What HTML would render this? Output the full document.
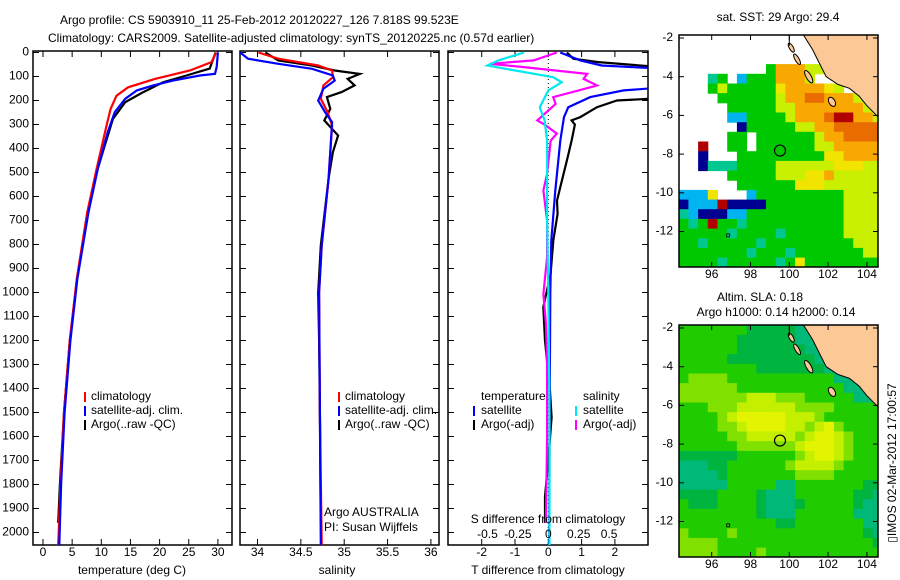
<!DOCTYPE html>
<html><head><meta charset="utf-8">
<style>
html,body{margin:0;padding:0;background:#fff;}
svg{display:block;font-family:"Liberation Sans",Arial,sans-serif;font-size:12px;}
</style></head>
<body>
<svg id="fig" width="900" height="580" viewBox="0 0 900 580" xmlns="http://www.w3.org/2000/svg">
<text x="60" y="24">Argo profile: CS 5903910_11 25-Feb-2012 20120227_126 7.818S 99.523E</text>
<text x="48" y="42">Climatology: CARS2009. Satellite-adjusted climatology: synTS_20120225.nc (0.57d earlier)</text>
<defs>
<clipPath id="c1"><rect x="33" y="51" width="199" height="494"/></clipPath>
<clipPath id="c2"><rect x="240" y="51" width="199" height="494"/></clipPath>
<clipPath id="c3"><rect x="448" y="51" width="200" height="494"/></clipPath>
<clipPath id="m1"><rect x="679" y="35" width="199" height="232"/></clipPath>
<clipPath id="m2"><rect x="679" y="325" width="199" height="232"/></clipPath>
</defs>
<g id="layer"></g>
<text x="893" y="463" transform="rotate(-90 893 463)" text-anchor="middle" dominant-baseline="middle">▯IMOS 02-Mar-2012 17:00:57</text>
</svg>
<script>
// ---------- profile data ----------
const tempClimDepth = [0,40,75,110,145,180,235,305,485,665,942,1200,1500,1800,2000,2052];
const tempClimVal   = [29.7,28.9,25.2,19.2,14.6,12.6,11.6,10.9,9.2,7.6,5.8,4.6,3.6,3.0,2.7,2.6];
const tempSatDepth  = [0,60,89,96,117,137,158,193,249,332,485,665,942,1200,1500,1800,2052];
const tempSatVal    = [30.0,29.8,29.5,26.9,22.3,18.9,16.1,14.1,12.3,11.1,9.4,7.8,5.9,4.7,3.7,3.1,2.8];
const tempArgoDepth = [0,67,96,124,165,207,276,387,500,700,950,1200,1500,1800,1960];
const tempArgoVal   = [29.6,28.6,24.6,20.6,17.2,14.1,12.0,10.6,9.2,7.4,5.8,4.6,3.6,2.9,2.6];

const salClimDepth = [0,26,54,75,103,137,193,249,304,525,804,1000,1500,2052];
const salClimVal   = [34.01,34.24,34.70,34.86,34.87,34.76,34.73,34.81,34.86,34.82,34.74,34.71,34.72,34.74];
const salSatDepth  = [0,26,47,68,96,117,151,200,249,290,525,804,1000,1500,2052];
const salSatVal    = [33.8,33.89,34.24,34.63,34.87,34.89,34.76,34.70,34.78,34.86,34.82,34.74,34.71,34.72,34.73];
const salArgoDepth = [0,33,54,75,89,110,137,165,186,235,283,346,415,525,804,1000,1200,1500,1960];
const salArgoVal   = [34.09,34.24,34.63,34.89,35.18,35.04,35.12,34.97,34.80,34.84,34.77,34.93,34.87,34.82,34.73,34.70,34.71,34.72,34.73];

const tDiffSatDepth  = [0,33,54,68,145,158,186,228,269,367,575,783,1000,1500,2052];
const tDiffSatVal    = [0.36,0.96,1.6,3.5,3.5,2.26,1.26,0.6,0.47,0.36,0.21,0.09,0.06,0.04,0.03];
const tDiffArgoDepth = [0,26,40,68,186,200,228,269,283,300,367,450,505,617,672,783,922,1061,1200,1338,1411,1520,1700,1850,1960];
const tDiffArgoVal   = [0.56,0.75,1.5,4,4,2.06,1.46,0.96,0.7,0.8,0.7,0.56,0.46,0.26,0.28,0.15,0.07,-0.15,-0.1,0,0.05,0.1,0,-0.1,-0.1];
const sDiffSatDepth  = [0,33,54,68,103,124,158,228,283,367,700,1000,1500,2052];
const sDiffSatVal    = [-0.2,-0.41,-0.5,-0.35,0.04,0.11,0,-0.07,-0.03,-0.01,-0.01,0,0.01,0.01];
const sDiffArgoDepth = [0,33,47,61,89,110,137,158,186,214,283,300,338,367,505,575,700,853,1006,1130,1300,1600,1960];
const sDiffArgoVal   = [0.07,-0.12,-0.48,-0.2,0.32,0.29,0.4,0.25,0.04,0.06,-0.09,-0.03,0.07,0.02,-0.01,-0.04,-0.01,-0.01,-0.04,-0.02,-0.01,-0.01,-0.02];

const depthTicks = [0,100,200,300,400,500,600,700,800,900,1000,1100,1200,1300,1400,1500,1600,1700,1800,1900,2000];
const tempTicks = [0,5,10,15,20,25,30];
const salTicks = ["34","34.5","35","35.5","36"];
const tDiffTicks = ["-2","-1","0","1","2"];
const sDiffTicks = ["-0.5","-0.25","0","0.25","0.5"];

// ---------- map data (0.5 deg cells, lon from 94.3, lat from -1.85 downward) ----------
const sstRows = [
".....................",
".....................",
".....................",
".........goooyy......",
"...tg.cgggoooy.......",
"...gygggggYooooYy....",
"....ggggggyooOOoooy..",
".....gggggyyoooooooy.",
".....ccggggyoooOrrooy",
"......bgggggyyooOOOOO",
".....gg.ggggggyooOOOO",
"..r..gg.ggggggyyooooo",
"..b...gggggggggYYoooo",
"..btttggggyyyyyyYYYyy",
".....gggggyyyYYoyyyyy",
"......ggggggYYYyyyyyy",
"cccY...cgggggggggyyyy",
"bcccrbbbbggggggggyyyy",
"tcbbbccggggggggggyyyy",
"gtgrggtggggggggggyyyy",
"gggggtggggtggggggyyyy",
"ggtgggggtgggggggggyyy",
"gggggggtgggtgggggggyy",
"ggggtgggggtgYgggggggg"];
const slaRows = [
"gggggggGGGGGttttttttt",
"ggggggGGGGGGttttttttt",
"ggggggGGGGGGGtttttttt",
"gggggGGGGGGGGGttttttt",
"ggggggggGGGGGGGtttttt",
"gllllgggggggggggttttt",
"llllllgggggggggggtttt",
"lllllllyyylllgggggttt",
"ggglllyyyyyyllllggggg",
"gggglyYYYYYyyylgggggg",
"ggggllyYYYYyylyYlgggg",
"gggggllyyyyylyYYylggg",
"ggggggllllllyYYYylggg",
"GGGGGGgggggglyYYylggg",
"tttGGgggggglyyyylgggg",
"ttttGgggggggllllggggg",
"tttttgggggttgggggggGG",
"GGGGggggGtttggggggGGt",
"gGGGggggGtttGgggggGtt",
"ggggggggGtttggggggttt",
"ggggggggggGGgggggggtt",
"lgggglgggggggggggggGt",
"llllggggggggggggggggG",
"llllgggglgggggggggggg"];
const sstColors = {g:"#00c800",y:"#c8f000",Y:"#f0e400",o:"#f8a800",O:"#e86c00",r:"#b00000",b:"#000090",c:"#00b4f0",t:"#00c890"};
const slaColors = {G:"#00b440",g:"#20cc00",l:"#80e000",y:"#c4f000",Y:"#e4f400",t:"#00b878"};
const landLon = [100.7,101.2,101.6,101.9,102.5,103.1,103.6,104.0,104.6,104.7,104.7];
const landLat = [-1.8,-2.6,-3.4,-4.0,-4.4,-4.6,-5.0,-5.5,-6.1,-6.1,-1.8];
const argoLon = 99.52, argoLat = -7.818;
const mapLonTicks = [96,98,100,102,104];
const mapLatTicks = [-2,-4,-6,-8,-10,-12];

// ---------- helpers ----------
const NS = "http://www.w3.org/2000/svg";
const root = document.getElementById('layer');
function mk(tag, attrs, parent){
  const e = document.createElementNS(NS, tag);
  for (const k in attrs) e.setAttribute(k, attrs[k]);
  (parent||root).appendChild(e);
  return e;
}
const Y0 = 52.5, KY = 0.24;
const yD = d => Y0 + d*KY;
const xT = v => 43 + v*5.83;
const xS = v => 257.5 + (v-34)*86.7;
const xTd = v => 548.3 + v*33.3;
const xSd = v => 548.3 + v*121.7;

function panelFrame(x0, x1, name, topTickXs){
  const g = mk('g', {});
  
  
  const r = mk('rect', {x:x0, y:51, width:x1-x0, height:494, fill:'none', stroke:'#000', 'stroke-width':1.5}, g);
  
  
  depthTicks.forEach(d => {
    const t1 = mk('line', {x1:x0, x2:x0+6, y1:yD(d), y2:yD(d), stroke:'#000'}, g);
    
    
    const t2 = mk('line', {x1:x1-6, x2:x1, y1:yD(d), y2:yD(d), stroke:'#000'}, g);
    
    
  });
  topTickXs.forEach(x => {
    const t1 = mk('line', {x1:x, x2:x, y1:51, y2:57, stroke:'#000'}, g);
    
    
    const t2 = mk('line', {x1:x, x2:x, y1:539, y2:545, stroke:'#000'}, g);
    
    
  });
  return g;
}
function series(depths, vals, xf, color, clip, name, w){
  const pts = depths.map((d,i) => xf(vals[i]).toFixed(1) + ',' + yD(d).toFixed(1)).join(' ');
  const p = mk('polyline', {points:pts, fill:'none', stroke:color, 'stroke-width':w||2.2, 'clip-path':'url(#'+clip+')'});
  
  
}
function txt(x, y, s, anchor, name){
  const t = mk('text', {x:x, y:y, 'text-anchor':anchor||'start', 'dominant-baseline':'middle'});
  t.textContent = s;
  
  
  return t;
}
function legendBar(x, y, color, name){
  const r = mk('rect', {x:x, y:y-5, width:2, height:10, fill:color});
  
  
}

depthTicks.forEach(d => txt(29, yD(d), String(d), 'end', 'depth-label'));

// ---------- panel 1 temperature ----------
panelFrame(33, 232, 'temperature-panel', tempTicks.map(xT));
series(tempArgoDepth, tempArgoVal, xT, '#000', 'c1', 'temp-argo-line');
series(tempClimDepth, tempClimVal, xT, '#ff0000', 'c1', 'temp-climatology-line');
series(tempSatDepth, tempSatVal, xT, '#0000ff', 'c1', 'temp-satellite-line');
tempTicks.forEach(v => txt(xT(v), 553, String(v), 'middle', 'temp-tick-label'));
txt(132, 571, 'temperature (deg C)', 'middle', 'temp-axis-title');
legendBar(84, 397, '#ff0000', 'legend-climatology-swatch');
txt(91, 397, 'climatology', 'start', 'legend-climatology');
legendBar(84, 411, '#0000ff', 'legend-satellite-swatch');
txt(91, 411, 'satellite-adj. clim.', 'start', 'legend-satellite');
legendBar(84, 425, '#000', 'legend-argo-swatch');
txt(91, 425, 'Argo(..raw -QC)', 'start', 'legend-argo');

// ---------- panel 2 salinity ----------
panelFrame(240, 439, 'salinity-panel', salTicks.map(s => xS(parseFloat(s))));
series(salArgoDepth, salArgoVal, xS, '#000', 'c2', 'sal-argo-line');
series(salClimDepth, salClimVal, xS, '#ff0000', 'c2', 'sal-climatology-line');
series(salSatDepth, salSatVal, xS, '#0000ff', 'c2', 'sal-satellite-line');
salTicks.forEach(s => txt(xS(parseFloat(s)), 553, s, 'middle', 'sal-tick-label'));
txt(337, 571, 'salinity', 'middle', 'sal-axis-title');
legendBar(338, 397, '#ff0000', 'legend-climatology-swatch');
txt(345, 397, 'climatology', 'start', 'legend-climatology');
legendBar(338, 411, '#0000ff', 'legend-satellite-swatch');
txt(345, 411, 'satellite-adj. clim.', 'start', 'legend-satellite');
legendBar(338, 425, '#000', 'legend-argo-swatch');
txt(345, 425, 'Argo(..raw -QC)', 'start', 'legend-argo');
txt(324, 513, 'Argo AUSTRALIA', 'start', 'argo-country');
txt(324, 528, 'PI: Susan Wijffels', 'start', 'argo-pi');

// ---------- panel 3 differences ----------
panelFrame(448, 648, 'difference-panel', tDiffTicks.map(s => xTd(parseFloat(s))));
const zl = mk('line', {x1:548.3, x2:548.3, y1:51, y2:545, stroke:'#000', 'stroke-dasharray':'1,3'});


series(tDiffArgoDepth, tDiffArgoVal, xTd, '#000', 'c3', 't-diff-argo-line');
series(tDiffSatDepth, tDiffSatVal, xTd, '#0000ff', 'c3', 't-diff-satellite-line');
series(sDiffArgoDepth, sDiffArgoVal, xSd, '#ff00ff', 'c3', 's-diff-argo-line');
series(sDiffSatDepth, sDiffSatVal, xSd, '#00e8f0', 'c3', 's-diff-satellite-line');
tDiffTicks.forEach(s => txt(xTd(parseFloat(s)), 553, s, 'middle', 't-diff-tick-label'));
sDiffTicks.forEach(s => txt(xSd(parseFloat(s)), 535, s, 'middle', 's-diff-tick-label'));
txt(548, 520, 'S difference from climatology', 'middle', 's-diff-axis-title');
txt(548, 571, 'T difference from climatology', 'middle', 't-diff-axis-title');
txt(481, 397, 'temperature', 'start', 'legend-temperature-header');
legendBar(473, 411, '#0000ff', 'legend-t-satellite-swatch');
txt(481, 411, 'satellite', 'start', 'legend-t-satellite');
legendBar(473, 425, '#000', 'legend-t-argo-swatch');
txt(481, 425, 'Argo(-adj)', 'start', 'legend-t-argo');
txt(583, 397, 'salinity', 'start', 'legend-salinity-header');
legendBar(575, 411, '#00e8f0', 'legend-s-satellite-swatch');
txt(583, 411, 'satellite', 'start', 'legend-s-satellite');
legendBar(575, 425, '#ff00ff', 'legend-s-argo-swatch');
txt(583, 425, 'Argo(-adj)', 'start', 'legend-s-argo');

// ---------- maps ----------
const mx = lon => 711.7 + (lon-96)*19.4;
function drawMap(rows, colors, top, latRef, clip, name){
  const my = lat => latRef + (-2-lat)*19.35;
  const g = mk('g', {'clip-path':'url(#'+clip+')'});
  
  
  rows.forEach((row, j) => {
    for (let i = 0; i < 21; i++){
      const ch = row[i];
      if (!ch || !colors[ch]) continue;
      const lon = 94.3 + i*0.5, lat = -1.85 - j*0.5;
      const c = mk('rect', {x:mx(lon).toFixed(1), y:my(lat).toFixed(1), width:10.2, height:10.2, fill:colors[ch]}, g);
      
      
    }
  });
  const land = mk('polygon', {points: landLon.map((lo,k) => mx(lo).toFixed(1)+','+my(landLat[k]).toFixed(1)).join(' '), fill:'#fcc896', stroke:'#000', 'stroke-width':1}, g);
  
  
  [[100.1,-2.5,2,5],[100.4,-3.1,2,6],[101.0,-4.0,2.5,7],[102.2,-5.3,3,5]].forEach(a => {
    const isl = mk('ellipse', {cx:mx(a[0]), cy:my(a[1]), rx:a[2], ry:a[3], fill:'#fcc896', stroke:'#000', 'stroke-width':1, transform:'rotate(-30 '+mx(a[0])+' '+my(a[1])+')'}, g);
    
    
  });
  const vl = mk('line', {x1:mx(100), x2:mx(100), y1:top, y2:my(-2.4), stroke:'#000'}, g);
  
  
  const sq = mk('rect', {x:mx(96.85)-1.5, y:my(-12.2)-1.5, width:3, height:3, fill:'none', stroke:'#000', 'stroke-width':0.8}, g);
  
  
  const circ = mk('circle', {cx:mx(argoLon), cy:my(argoLat), r:5.5, fill:'none', stroke:'#000', 'stroke-width':1.2});
  
  
  const fr = mk('rect', {x:679, y:top, width:199, height:232, fill:'none', stroke:'#000', 'stroke-width':1.5});
  
  
  mapLatTicks.forEach(l => {
    const y = my(l);
    const a = mk('line', {x1:679, x2:684, y1:y, y2:y, stroke:'#000'});
    
    
    const b = mk('line', {x1:873, x2:878, y1:y, y2:y, stroke:'#000'});
    
    
    txt(673, y, String(l), 'end', 'lat-label');
  });
  mapLonTicks.forEach(l => {
    const x = mx(l);
    const a = mk('line', {x1:x, x2:x, y1:top, y2:top+5, stroke:'#000'});
    
    
    const b = mk('line', {x1:x, x2:x, y1:top+227, y2:top+232, stroke:'#000'});
    
    
    txt(x, top+240, String(l), 'middle', 'lon-label');
  });
}
drawMap(sstRows, sstColors, 35, 38, 'm1', 'sst-map');
drawMap(slaRows, slaColors, 325, 328, 'm2', 'sla-map');
txt(778, 18, 'sat. SST: 29 Argo: 29.4', 'middle', 'sst-map-title');
txt(760, 298, 'Altim. SLA: 0.18', 'middle', 'sla-map-title');
txt(776, 313, 'Argo h1000: 0.14 h2000: 0.14', 'middle', 'sla-map-subtitle');
</script>
</body></html>
